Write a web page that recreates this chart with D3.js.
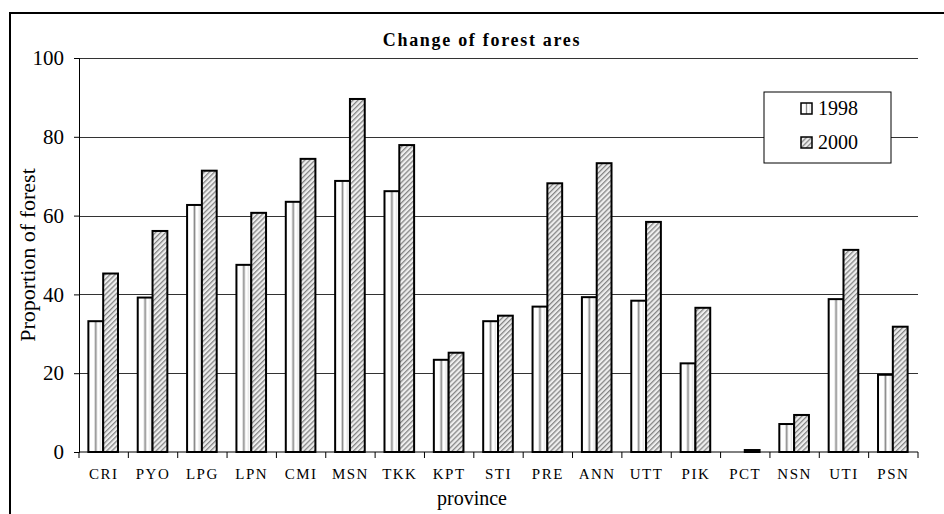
<!DOCTYPE html>
<html>
<head>
<meta charset="utf-8">
<script src="https://cdn.jsdelivr.net/npm/d3@7"></script>
<style>
  body { margin: 0; background: #fff; }
  svg { display: block; font-family: "Liberation Serif", "Times New Roman", serif; }
  svg text { font-family: "Liberation Serif", "Times New Roman", serif; }
</style>
</head>
<body>
<svg id="chart" width="944" height="514"></svg>
<script>
"use strict";

// data
const provinces = ["CRI", "PYO", "LPG", "LPN", "CMI", "MSN", "TKK", "KPT", "STI",
                   "PRE", "ANN", "UTT", "PIK", "PCT", "NSN", "UTI", "PSN"];
const years = ["1998", "2000"];
const values1998 = [33.2, 39.2, 62.7, 47.5, 63.5, 68.8, 66.2, 23.4, 33.2,
                    36.9, 39.3, 38.4, 22.5, 0, 7.1, 38.8, 19.6];
const values2000 = [45.3, 56.1, 71.4, 60.7, 74.4, 89.6, 77.9, 25.2, 34.6,
                    68.2, 73.3, 58.4, 36.6, 0.5, 9.4, 51.3, 31.8];
const yTicks = [0, 20, 40, 60, 80, 100];

const svg = d3.select("#chart");
const margin = {left: 79, right: 26, top: 58, bottom: 62};
const W = 944, H = 514;

// outer frame
svg.append("rect")
    .attr("x", 10).attr("y", 13)
    .attr("width", 940).attr("height", 520)
    .attr("fill", "none").attr("stroke", "#000").attr("stroke-width", 2);

const defs = svg.append("defs");

// vertical stripe for 1998 (one per bar)
const p98 = defs.append("pattern")
    .attr("id", "p1998")
    .attr("patternUnits", "objectBoundingBox")
    .attr("patternContentUnits", "objectBoundingBox")
    .attr("width", 1).attr("height", 1);
p98.append("rect").attr("width", 1).attr("height", 1).attr("fill", "#fff");
p98.append("rect").attr("x", 0.44).attr("width", 0.12).attr("height", 1).attr("fill", "#8a8a8a");
p98.append("rect").attr("x", 0.78).attr("width", 0.06).attr("height", 1).attr("fill", "#d8d8d8");

// diagonal hatch for 2000
const p00 = defs.append("pattern")
    .attr("id", "p2000")
    .attr("patternUnits", "userSpaceOnUse")
    .attr("width", 3.6).attr("height", 3.6)
    .attr("patternTransform", "rotate(45)");
p00.append("rect").attr("width", 3.6).attr("height", 3.6).attr("fill", "#eeeeee");
p00.append("rect").attr("x", 0).attr("width", 1.3).attr("height", 3.6).attr("fill", "#858585");

const fills = {"1998": "url(#p1998)", "2000": "url(#p2000)"};

// band of the whole category
const xCat = d3.scaleBand().domain(provinces).range([margin.left, W - margin.right]);
const x1 = d3.scaleBand().domain(years).range([0, xCat.bandwidth() * 0.6]);

const y = d3.scaleLinear().domain([0, 100]).range([H - margin.bottom, margin.top]);

// gridlines
svg.append("g")
  .selectAll("line")
  .data(yTicks.filter(t => t > 0))
  .join("line")
    .attr("x1", margin.left).attr("x2", W - margin.right)
    .attr("y1", d => Math.round(y(d)) + 0.5).attr("y2", d => Math.round(y(d)) + 0.5)
    .attr("stroke", "#333").attr("stroke-width", 1);

// bars
const rows = provinces.map((p, i) => ({p, vals: [values1998[i], values2000[i]]}));
const off = xCat.bandwidth() * 0.19;
svg.append("g")
  .selectAll("g")
  .data(rows)
  .join("g")
    .attr("transform", d => `translate(${xCat(d.p) + off},0)`)
  .selectAll("rect")
  .data(d => d.vals.map((v, k) => ({year: years[k], v})))
  .join("rect")
    .filter(d => d.v > 0)
    .attr("x", d => x1(d.year))
    .attr("y", d => y(d.v))
    .attr("width", x1.bandwidth())
    .attr("height", d => y(0) - y(d.v))
    .attr("fill", d => fills[d.year])
    .attr("stroke", "#000")
    .attr("stroke-width", 2);

// y axis
const yAxis = d3.axisLeft(y).tickValues(yTicks).tickSize(5).tickPadding(10);
const gy = svg.append("g")
    .attr("transform", `translate(${margin.left},0)`)
    .call(yAxis)
    .attr("font-family", null);
gy.select(".domain").attr("stroke", "#000");
gy.selectAll("text")
    .attr("font-size", 21)
    .attr("fill", "#000");

// x axis: ticks on category boundaries
const gx = svg.append("g").attr("transform", `translate(0,${y(0)})`);
gx.append("line")
    .attr("x1", margin.left).attr("x2", W - margin.right)
    .attr("stroke", "#000");
gx.selectAll(".tk")
  .data(provinces.concat(["end"]))
  .join("line")
    .attr("class", "tk")
    .attr("x1", (d, i) => margin.left + i * xCat.step())
    .attr("x2", (d, i) => margin.left + i * xCat.step())
    .attr("y1", 0).attr("y2", 6)
    .attr("stroke", "#000");
gx.selectAll("text")
  .data(provinces)
  .join("text")
    .attr("x", d => xCat(d) + xCat.bandwidth() / 2)
    .attr("y", 27)
    .attr("text-anchor", "middle")
    .attr("font-size", 15)
    .attr("letter-spacing", 1.5)
    .text(d => d);

// axis titles
svg.append("text")
    .attr("x", 472).attr("y", 505)
    .attr("text-anchor", "middle")
    .attr("font-size", 20)
    .text("province");

svg.append("text")
    .attr("transform", `translate(35,${(y(0) + y(100)) / 2}) rotate(-90)`)
    .attr("text-anchor", "middle")
    .attr("font-size", 22)
    .text("Proportion of forest");

// title
svg.append("text")
    .attr("x", 482).attr("y", 46)
    .attr("text-anchor", "middle")
    .attr("font-size", 18)
    .attr("letter-spacing", 1.7)
    .attr("font-weight", "bold")
    .text("Change of forest ares");

// legend
const lg = svg.append("g").attr("transform", "translate(764,92)");
lg.append("rect")
    .attr("width", 127).attr("height", 71)
    .attr("fill", "#fff").attr("stroke", "#000").attr("stroke-width", 1);
years.forEach((yr, k) => {
  const row = lg.append("g").attr("transform", `translate(37,${16 + k * 34})`);
  row.append("rect")
      .attr("y", -5).attr("width", 11).attr("height", 11)
      .attr("fill", fills[yr]).attr("stroke", "#000").attr("stroke-width", 1.5);
  row.append("text")
      .attr("x", 17).attr("y", 7)
      .attr("font-size", 20)
      .text(yr);
});
</script>
</body>
</html>
